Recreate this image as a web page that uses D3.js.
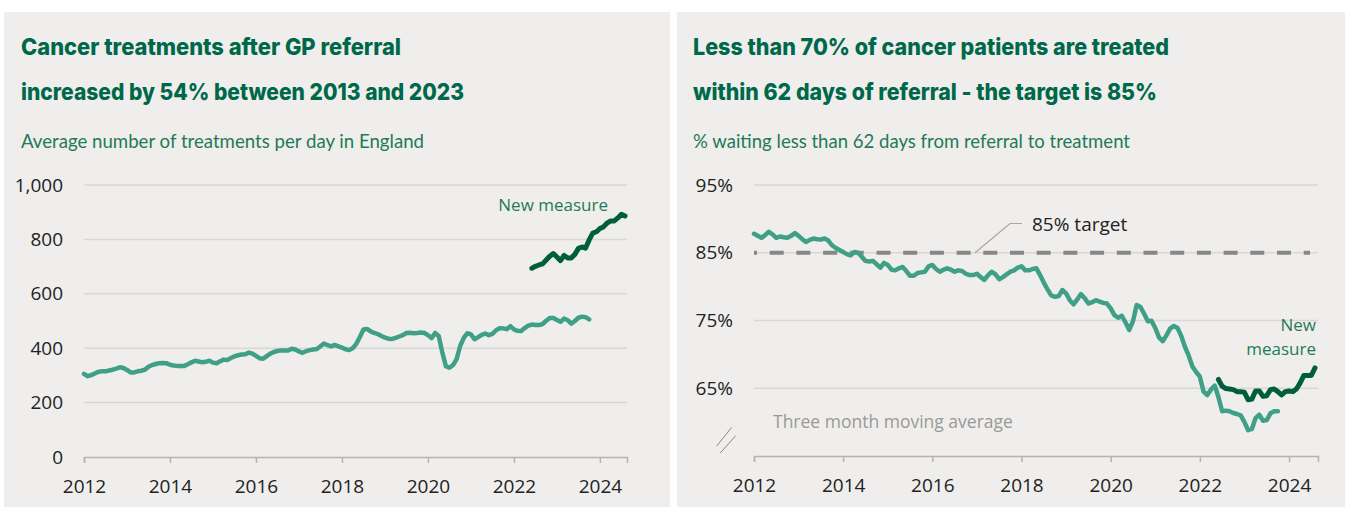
<!DOCTYPE html>
<html>
<head>
<meta charset="utf-8">
<script src="https://cdn.jsdelivr.net/npm/d3@7"></script>
<style>
body { margin: 0; background: #fff; }
svg text { font-family: 'Open Sans', sans-serif; }
</style>
</head>
<body>
<div id="chart"></div>
<script>
// monthly series, old measure starts Jan 2012, new measure starts Jun 2022
var oldStart = 2012;
var newStart = 2022 + 5 / 12;

// left: average treatments per day
var treatOld = [306,297,301,307,313,315,315,318,321,325,330,327,320,311,311,315,317,321,332,338,
  342,345,346,345,339,336,335,335,335,341,348,354,351,348,350,354,347,345,352,358,
  357,364,370,374,377,378,384,380,372,363,361,371,380,386,390,392,392,392,398,395,
  388,383,389,393,395,397,407,417,411,407,412,407,402,396,393,400,416,441,469,471,
  462,456,452,445,439,435,434,438,443,448,456,457,455,456,458,456,448,437,456,445,
  385,334,328,338,360,408,438,455,451,433,441,449,454,448,453,466,473,473,470,481,
  469,464,463,474,483,487,485,485,489,501,511,511,504,497,509,503,490,500,512,516,
  514,506];
var treatNew = [694,701,706,710,724,738,748,735,722,741,732,732,745,767,772,768,798,823,828,840,
  846,860,868,868,879,892,886];

// right: % treated within 62 days
var waitOld = [87.8,87.5,87.2,87.6,88.1,87.7,87.2,87.4,87.3,87.2,87.5,87.9,87.5,87.0,86.6,86.9,87.1,87.0,86.95,87.1,
  86.8,86.1,85.7,85.4,85.1,84.8,84.6,85.1,85.0,84.4,83.8,83.7,83.8,83.3,82.8,83.5,83.2,82.5,82.4,82.7,
  82.9,82.3,81.6,81.6,82.0,82.1,82.2,83.0,83.2,82.6,82.2,82.5,82.7,82.5,82.2,82.4,82.3,81.9,81.7,81.7,
  81.9,81.4,81.0,81.7,82.2,81.8,81.1,81.4,81.8,82.2,82.4,82.8,83.0,82.4,82.4,82.6,82.7,81.7,80.6,79.6,
  78.7,78.5,78.6,79.5,79.0,78.0,77.4,78.1,78.9,78.3,77.5,77.7,78.0,77.8,77.6,77.5,76.8,75.8,75.4,75.7,
  74.7,73.6,74.9,77.3,77.0,76.0,74.9,74.95,73.9,72.5,71.95,72.8,73.8,74.2,73.9,72.7,71.1,69.8,68.2,67.4,
  66.7,64.5,64.0,64.8,65.4,63.7,61.6,61.7,61.6,61.35,61.2,61.0,60.0,58.8,59.0,60.6,61.1,60.2,60.3,61.3,
  61.6,61.6];
var waitNew = [66.3,65.3,64.95,64.9,64.8,64.5,64.5,64.4,63.3,63.4,64.6,64.6,63.8,63.9,64.8,64.9,64.5,64.0,64.5,64.6,
  64.5,64.9,65.8,66.9,66.9,66.9,68.0];

var yearTicks = [2012, 2014, 2016, 2018, 2020, 2022, 2024];
var treatTicks = [0, 200, 400, 600, 800, 1000];
var waitTicks = [65, 75, 85, 95];
var target = 85;

var titleColor = '#00684a';
var oldColor = '#40a087';
var newColor = '#005e3c';
var noteColor = '#1f7a57';
var panelColor = '#efeeec';

var svg = d3.select('#chart').append('svg')
  .attr('width', 1345)
  .attr('height', 507);

function toPoints(values, start) {
  return values.map(function (v, i) { return { t: start + i / 12, v: v }; });
}

function panel(px, pw, title1, title2, sub) {
  svg.append('rect')
    .attr('x', px).attr('y', 12)
    .attr('width', pw).attr('height', 495)
    .attr('fill', panelColor);
  var t = svg.append('g');
  [title1, title2].forEach(function (d, i) {
    t.append('text')
      .attr('x', px + d.dx).attr('y', 55 + i * 45)
      .attr('textLength', d.w).attr('lengthAdjust', 'spacingAndGlyphs')
      .style('font-family', 'Inter, Lato, sans-serif')
      .style('font-weight', 800)
      .style('font-size', '23px')
      .attr('fill', titleColor)
      .text(d.text);
  });
  t.append('text')
    .attr('x', px + sub.dx).attr('y', 148)
    .attr('textLength', sub.w).attr('lengthAdjust', 'spacingAndGlyphs')
    .style('font-family', 'Lato, sans-serif')
    .style('font-size', '20px')
    .attr('fill', noteColor)
    .text(sub.text);
}

function axes(x, y, ticks, fmt) {
  var g = svg.append('g');
  var x0 = x.range()[0], x1 = x.range()[1];
  // gridlines
  g.selectAll('.grid').data(ticks.filter(function (d) { return d !== y.domain()[0]; }))
    .enter().append('line')
    .attr('x1', x0).attr('x2', x1)
    .attr('y1', function (d) { return y(d); })
    .attr('y2', function (d) { return y(d); })
    .attr('stroke', '#d8d7d5').attr('stroke-width', 1.5);
  // y labels
  g.selectAll('.ylab').data(ticks).enter().append('text')
    .attr('x', x0 - 21)
    .attr('y', function (d) { return y(d); })
    .attr('dy', '0.35em')
    .attr('text-anchor', 'end')
    .style('font-size', '19px')
    .attr('fill', '#222')
    .text(fmt);
  // x axis
  var base = y(y.domain()[0]);
  var ax = g.append('g')
    .attr('transform', 'translate(0,' + base + ')')
    .call(d3.axisBottom(x).tickValues(yearTicks).tickFormat(d3.format('d')).tickSize(6).tickPadding(10));
  ax.select('.domain').attr('stroke', '#b5b4b2').attr('stroke-width', 1.5);
  ax.selectAll('.tick line').attr('stroke', '#b5b4b2').attr('stroke-width', 1.5);
  ax.selectAll('.tick text')
    .attr('y', 36).attr('dy', 0)
    .style('font-family', "'Open Sans', sans-serif")
    .style('font-size', '19px')
    .attr('fill', '#222');
}

function series(x, y, pts, color, w) {
  var line = d3.line()
    .x(function (d) { return x(d.t); })
    .y(function (d) { return y(d.v); });
  svg.append('path')
    .datum(pts)
    .attr('d', line)
    .attr('fill', 'none')
    .attr('stroke', color)
    .attr('stroke-width', w)
    .attr('stroke-linejoin', 'round')
    .attr('stroke-linecap', 'round');
}

// LEFT PANEL
panel(4, 666,
  { text: 'Cancer treatments after GP referral', dx: 17, w: 380 },
  { text: 'increased by 54% between 2013 and 2023', dx: 17, w: 443 },
  { text: 'Average number of treatments per day in England', dx: 17, w: 403 });

var xL = d3.scaleLinear().domain([2012, 2024.63]).range([84, 627]);
var yL = d3.scaleLinear().domain([0, 1000]).range([457, 185]);
axes(xL, yL, treatTicks, d3.format(','));
series(xL, yL, toPoints(treatOld, oldStart), oldColor, 4.5);
series(xL, yL, toPoints(treatNew, newStart), newColor, 5);

svg.append('text')
  .attr('x', 608).attr('y', 211)
  .attr('text-anchor', 'end')
  .style('font-size', '17px')
  .attr('fill', noteColor)
  .text('New measure');

// RIGHT PANEL
panel(677, 668,
  { text: 'Less than 70% of cancer patients are treated', dx: 16, w: 476 },
  { text: 'within 62 days of referral - the target is 85%', dx: 16, w: 464 },
  { text: '% waiting less than 62 days from referral to treatment', dx: 16, w: 437 });

var xR = d3.scaleLinear().domain([2012, 2024.65]).range([754, 1318]);
var yR = d3.scaleLinear().domain([55, 95]).range([456, 185]);
axes(xR, yR, waitTicks, function (d) { return d + '%'; });

// target line
svg.append('line')
  .attr('x1', xR(2012)).attr('x2', 1310)
  .attr('y1', yR(target)).attr('y2', yR(target))
  .attr('stroke', '#878787').attr('stroke-width', 4)
  .attr('stroke-dasharray', '14,12.7')
  .attr('stroke-dashoffset', 11);

series(xR, yR, toPoints(waitOld, oldStart), oldColor, 4.5);
series(xR, yR, toPoints(waitNew, newStart), newColor, 5);

// target annotation
svg.append('polyline')
  .attr('points', [[975, yR(target)], [1010, 223.5], [1022, 223.5]].join(' '))
  .attr('fill', 'none')
  .attr('stroke', '#a8a7a5').attr('stroke-width', 1.2);
svg.append('text')
  .attr('x', 1032).attr('y', 231)
  .style('font-size', '19px')
  .attr('fill', '#222')
  .text('85% target');

svg.append('text')
  .attr('x', 773).attr('y', 428)
  .style('font-size', '17.5px')
  .attr('fill', '#9a9997')
  .text('Three month moving average');

var nm = svg.append('text')
  .attr('text-anchor', 'end')
  .style('font-size', '17px')
  .attr('fill', noteColor);
nm.append('tspan').attr('x', 1316).attr('y', 331).text('New');
nm.append('tspan').attr('x', 1316).attr('y', 355).text('measure');

// axis break marks
[[716.7, 446, 731.7, 427.3], [720, 453.3, 735.7, 435.7]].forEach(function (d) {
  svg.append('line')
    .attr('x1', d[0]).attr('y1', d[1]).attr('x2', d[2]).attr('y2', d[3])
    .attr('stroke', '#8a8987').attr('stroke-width', 1);
});
</script>
</body>
</html>
